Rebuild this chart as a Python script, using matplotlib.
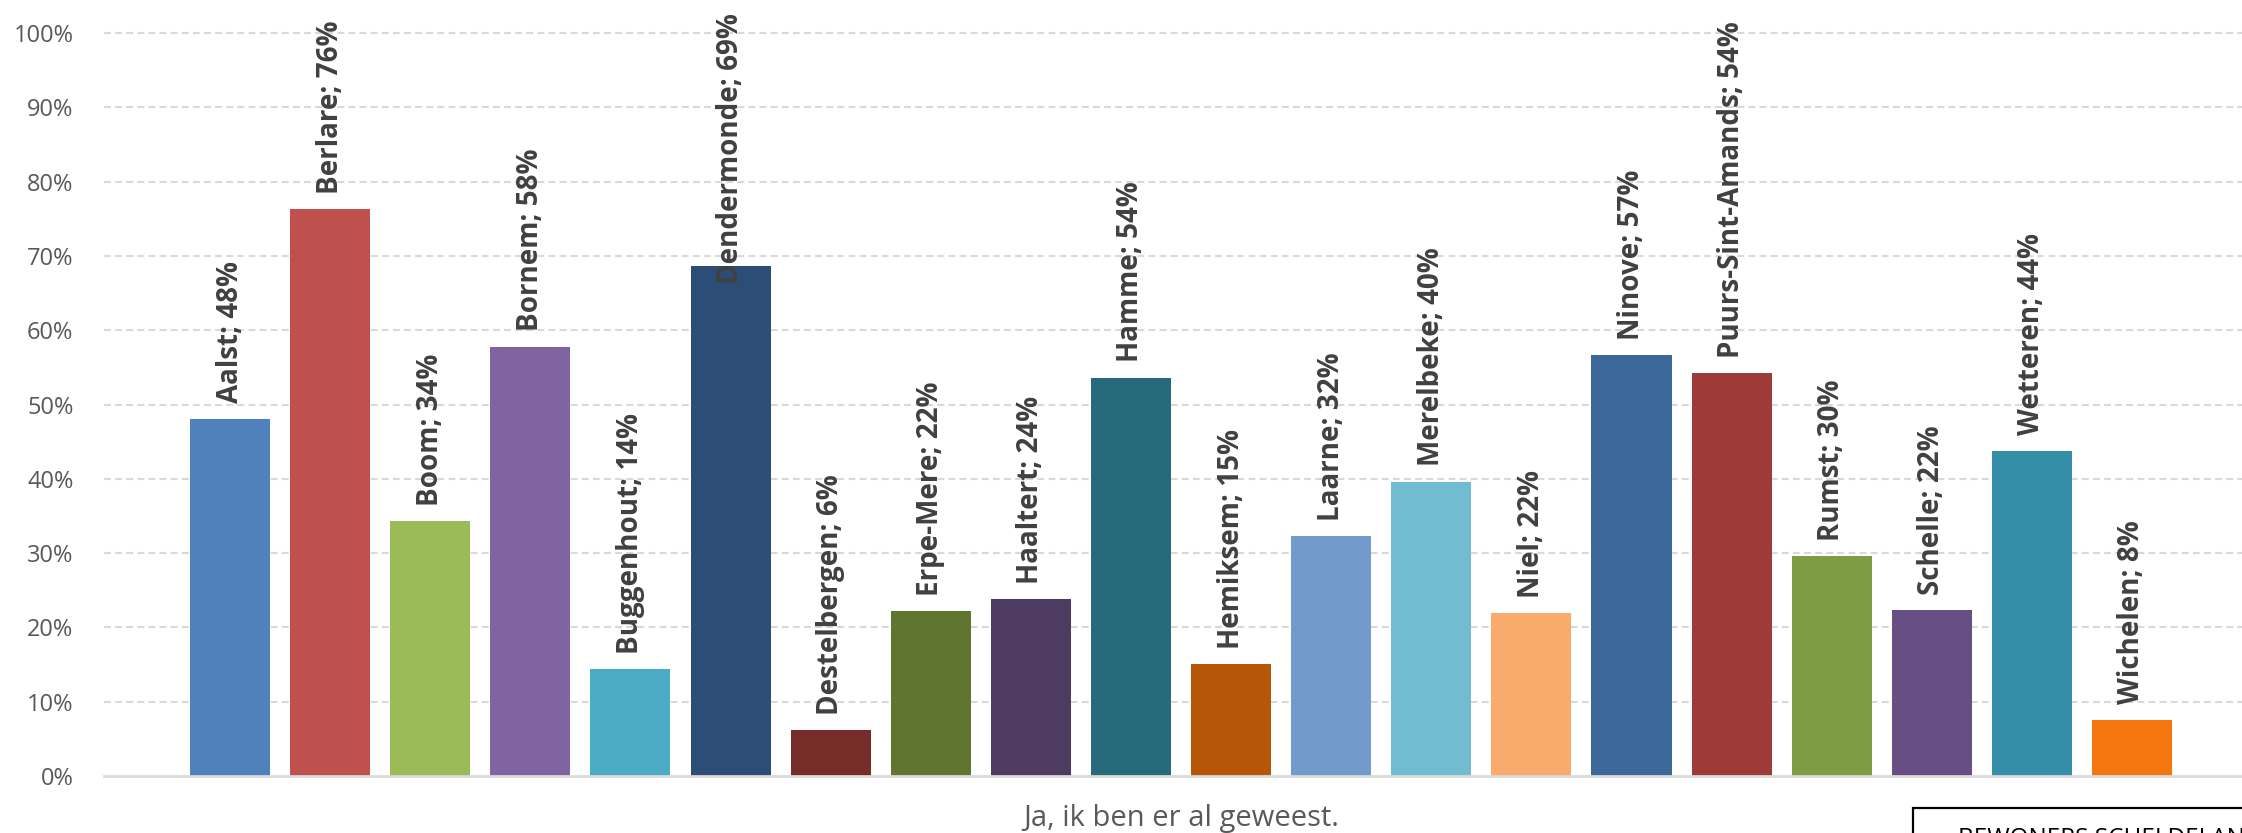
import matplotlib
matplotlib.use("Agg")
import matplotlib.pyplot as plt
from matplotlib.patches import Rectangle
import numpy as np

# ---------------- data ----------------
municipalities = ["Aalst", "Berlare", "Boom", "Bornem", "Buggenhout", "Dendermonde",
                  "Destelbergen", "Erpe-Mere", "Haaltert", "Hamme", "Hemiksem", "Laarne",
                  "Merelbeke", "Niel", "Ninove", "Puurs-Sint-Amands", "Rumst", "Schelle",
                  "Wetteren", "Wichelen"]
values = [0.481, 0.763, 0.343, 0.578, 0.144, 0.686,
          0.062, 0.222, 0.238, 0.536, 0.151, 0.323,
          0.396, 0.219, 0.566, 0.542, 0.296, 0.223,
          0.438, 0.076]
colors = ["#4F81BD", "#C0504D", "#9BBB59", "#8064A2", "#4BACC6", "#2C4D75",
          "#772C2A", "#5F7530", "#4D3B62", "#276A7C", "#B65708", "#729ACA",
          "#71BCD1", "#F9AB6B", "#3B6899", "#9E3B39", "#7E9C43", "#674F84",
          "#358EA7", "#F3760F"]
category = "Ja, ik ben er al geweest."
yticks = [0, 0.1, 0.2, 0.3, 0.4, 0.5, 0.6, 0.7, 0.8, 0.9, 1.0]
box_text = "BEWONERS SCHELDELAND"

plt.rcParams["font.family"] = ["Open Sans", "DejaVu Sans"]
plt.rcParams["lines.scale_dashes"] = False

W, H = 2242, 833
fig = plt.figure(figsize=(W / 100, H / 100), dpi=100)
ax = fig.add_axes([104 / W, 57 / H, (W - 104) / W, 743 / H])

x = np.arange(len(values))
ax.bar(x, values, width=0.8, color=colors, zorder=2)

ax.set_xlim(-1.259, len(values) - 1 + 1.099)
ax.set_ylim(0, 1)
ax.set_yticks(yticks)
ax.set_yticklabels([f"{int(round(t * 100))}%" for t in yticks], fontsize=17, color="#595959")
ax.tick_params(axis="y", length=0, pad=22)

ax.set_xticks([x.mean()])
ax.set_xticklabels([category], fontsize=21, color="#595959")
ax.tick_params(axis="x", length=0, pad=20)

for s in ["top", "right", "left"]:
    ax.spines[s].set_visible(False)
ax.spines["bottom"].set_color("#D9D9D9")
ax.spines["bottom"].set_linewidth(2)
ax.spines["bottom"].set_zorder(3)

for t in yticks[1:]:
    ax.axhline(t, color="#D9D9D9", lw=1.5, dashes=(5, 3), zorder=1, clip_on=False)

labels = []
for xi, v, name in zip(x, values, municipalities):
    t = ax.annotate(f"{name}; {int(round(v * 100))}%", xy=(xi, v), xytext=(0, 11),
                    textcoords="offset points", rotation=90, ha="center", va="bottom",
                    fontsize=20, fontweight="bold", color="#404040",
                    annotation_clip=False, zorder=4)
    labels.append(t)

# keep labels inside the chart area (shift down like Excel does)
fig.canvas.draw()
renderer = fig.canvas.get_renderer()
top_limit = H - 13
for t in labels:
    bb = t.get_window_extent(renderer)
    if bb.y1 > top_limit:
        shift = (bb.y1 - top_limit) * 72 / fig.dpi
        ox, oy = t.xyann
        t.xyann = (ox, oy - shift)

# cut-off box at bottom right
rect = Rectangle((1913 / W, -0.05), 0.2, 0.05 + 25 / H, transform=fig.transFigure,
                 fill=False, edgecolor="black", lw=1.6, clip_on=False)
fig.add_artist(rect)
fig.text(1958 / W, 6 / H, box_text, fontsize=17.5, color="black", va="top", ha="left")

fig.savefig("out.png", dpi=100, facecolor="white")
